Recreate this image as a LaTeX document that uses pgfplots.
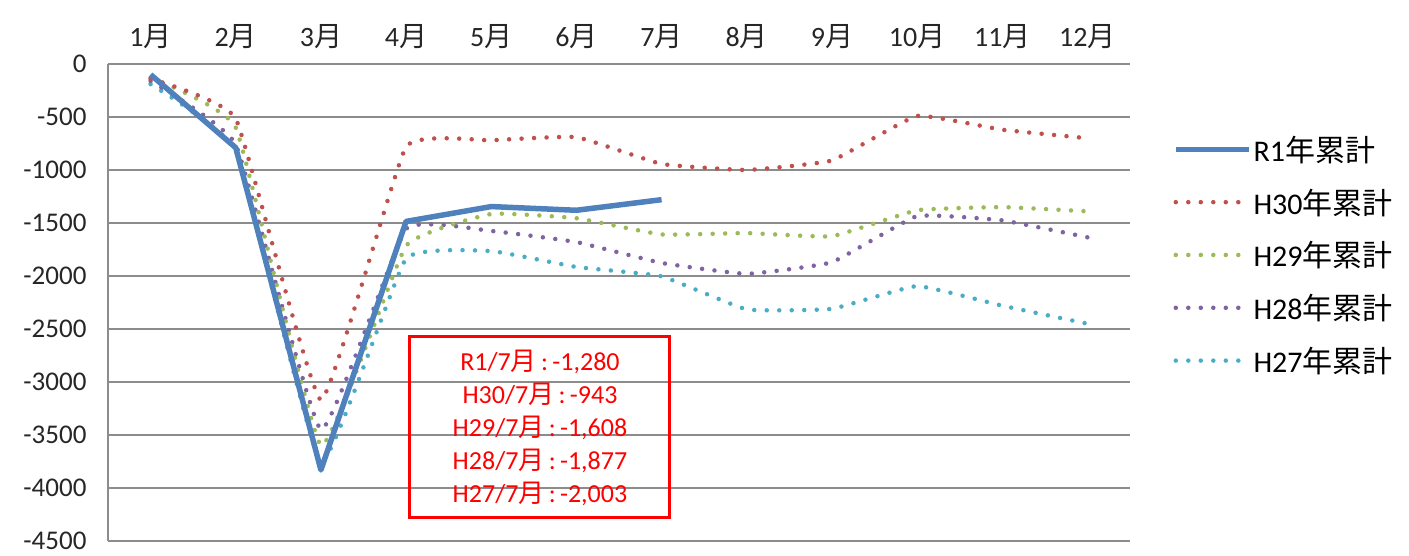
\documentclass[border=0pt]{standalone}
\usepackage{pgfplots}
\pgfplotsset{compat=1.18}
\usepackage{fontspec}
\setmainfont{Carlito}
\newfontfamily\jp{Noto Sans CJK JP}
\definecolor{cR1}{HTML}{4F81BD}
\definecolor{cH30}{HTML}{C0504D}
\definecolor{cH29}{HTML}{9BBB59}
\definecolor{cH28}{HTML}{8064A2}
\definecolor{cH27}{HTML}{4BACC6}
\definecolor{gridg}{HTML}{8C8C8C}
\begin{document}
\begin{tikzpicture}
\path[use as bounding box] (0,0) rectangle (1409pt,556pt);
\begin{axis}[
  at={(108pt,15pt)}, anchor=south west,
  width=1022pt, height=477pt, scale only axis,
  xmin=0.5, xmax=12.5, ymin=-4500, ymax=0,
  axis x line*=top, axis y line*=left,
  axis line style={draw=gridg, line width=1.6pt, -},
  xtick={1,...,12},
  xticklabels={1{\jp 月},2{\jp 月},3{\jp 月},4{\jp 月},5{\jp 月},6{\jp 月},7{\jp 月},8{\jp 月},9{\jp 月},10{\jp 月},11{\jp 月},12{\jp 月}},
  major x tick style={draw=none},
  extra x ticks={1.5,2.5,...,11.5},
  extra x tick labels={},
  extra x tick style={major tick length=8pt, tick align=inside, tick style={draw=gridg, line width=1.6pt}},
  ytick={0,-500,...,-4500},
  yticklabels={0,-500,-1000,-1500,-2000,-2500,-3000,-3500,-4000,-4500},
  ymajorgrids,
  major grid style={draw=gridg, line width=1.6pt},
  major y tick style={draw=none},
  ticklabel style={font=\fontsize{27}{30}\selectfont, text=black!85},
  xticklabel style={yshift=12pt, font=\fontsize{28}{30}\selectfont},
  yticklabel style={xshift=-18pt},
  tick align=inside,
  reverse legend,
  legend cell align=left,
  legend image code/.code={\draw[#1] (0pt,0pt) -- (73pt,0pt);},
  legend style={at={(1.039,0.858)}, anchor=north west, draw=none, fill=none,
    font=\fontsize{30}{32}\selectfont, row sep=22pt,
    /tikz/every even column/.append style={column sep=4pt}},
  every axis plot/.append style={smooth, tension=0.2},
  clip=false,
]
\addplot[cH27, line width=4.5pt, line cap=round, dash pattern=on 0pt off 12.5pt] coordinates {
(1,-190) (2,-820) (3,-3760) (4,-1835) (5,-1765) (6,-1915) (7,-2003) (8,-2315) (9,-2310) (10,-2095) (11,-2280) (12,-2450)};
\addlegendentry{H27{\jp 年累計}}
\addplot[cH28, line width=4.5pt, line cap=round, dash pattern=on 0pt off 12.5pt] coordinates {
(1,-160) (2,-760) (3,-3450) (4,-1555) (5,-1575) (6,-1680) (7,-1877) (8,-1980) (9,-1870) (10,-1435) (11,-1475) (12,-1635)};
\addlegendentry{H28{\jp 年累計}}
\addplot[cH29, line width=4.5pt, line cap=round, dash pattern=on 0pt off 12.5pt] coordinates {
(1,-130) (2,-600) (3,-3600) (4,-1715) (5,-1415) (6,-1455) (7,-1608) (8,-1595) (9,-1625) (10,-1380) (11,-1350) (12,-1390)};
\addlegendentry{H29{\jp 年累計}}
\addplot[cH30, line width=4.5pt, line cap=round, dash pattern=on 0pt off 12.5pt] coordinates {
(1,-140) (2,-515) (3,-3170) (4,-780) (5,-720) (6,-690) (7,-943) (8,-1000) (9,-910) (10,-490) (11,-620) (12,-700)};
\addlegendentry{H30{\jp 年累計}}
\addplot[cR1, line width=5.5pt, sharp plot, line join=round] coordinates {
(1,-100) (2,-790) (3,-3830) (4,-1485) (5,-1345) (6,-1380) (7,-1280)};
\addlegendentry{R1{\jp 年累計}}
\node[draw=red, line width=3pt, minimum width=260pt, minimum height=181pt, text=red,
  align=center, font=\fontsize{26}{33}\selectfont]
  at (rel axis cs:0.4227,0.238)
  {R1/7{\jp 月}\,:\,-1,280\\H30/7{\jp 月}\,:\,-943\\H29/7{\jp 月}\,:\,-1,608\\H28/7{\jp 月}\,:\,-1,877\\H27/7{\jp 月}\,:\,-2,003};
\end{axis}
\end{tikzpicture}
\end{document}
